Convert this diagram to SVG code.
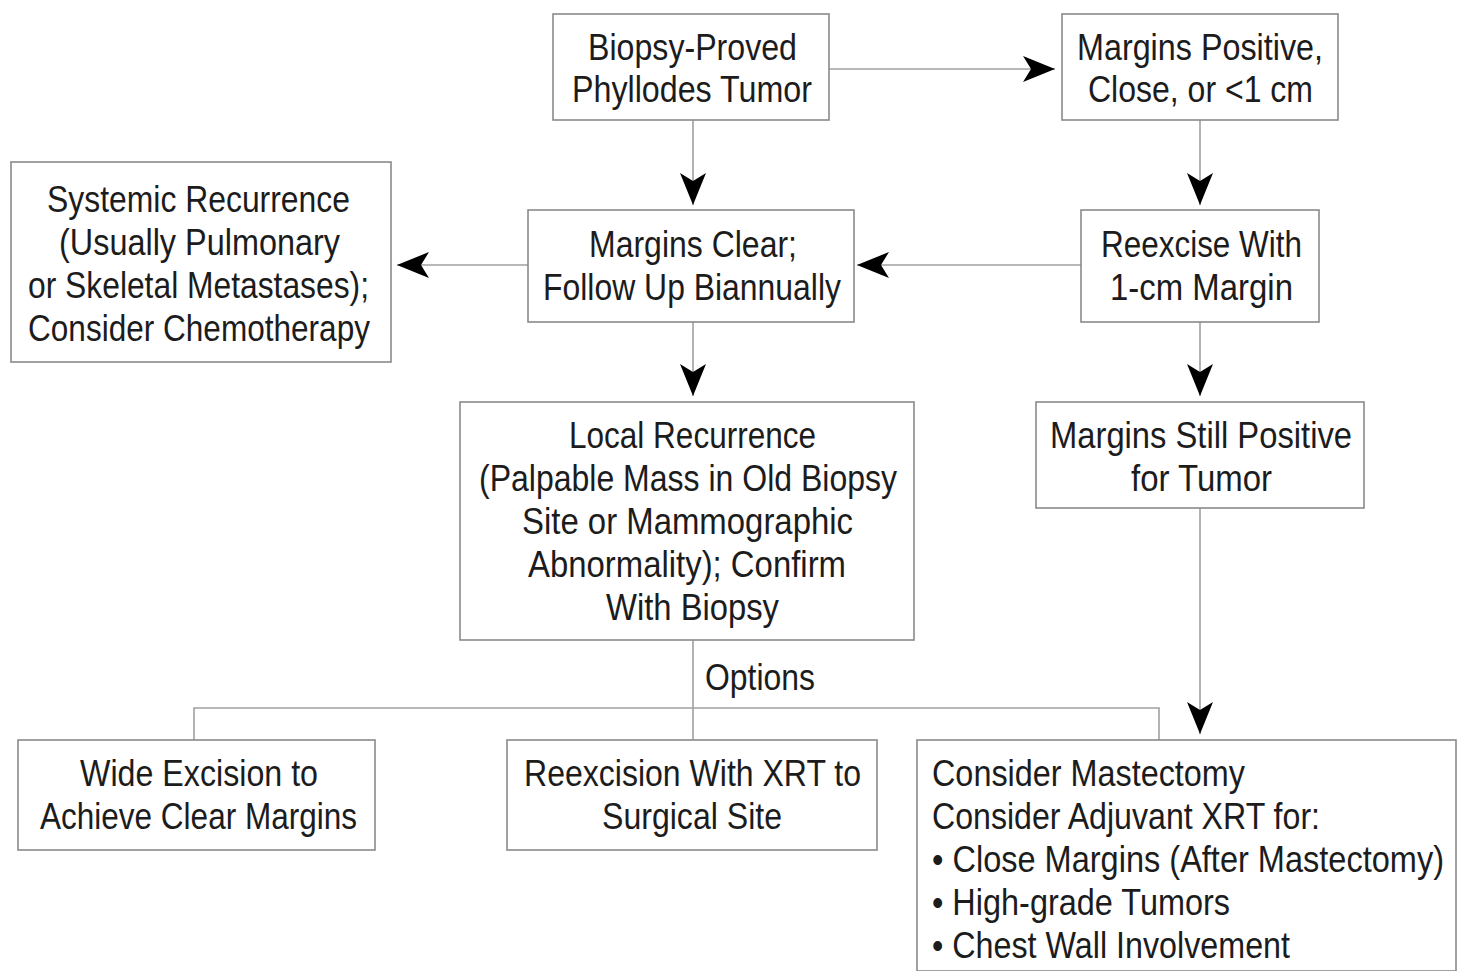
<svg xmlns="http://www.w3.org/2000/svg" width="1458" height="971" viewBox="0 0 1458 971">
<style>
.bg{fill:#ffffff}
.box{fill:#ffffff;stroke:#8a8a8a;stroke-width:1.6}
.t{font-family:"Liberation Sans",Arial,sans-serif;font-size:37px;fill:#1c1c1c}
.c{text-anchor:middle}
.ln{fill:none;stroke:#a0a0a0;stroke-width:1.6}
</style>
<defs>
<marker id="ah" markerUnits="userSpaceOnUse" markerWidth="34" markerHeight="28" viewBox="0 0 34 28" refX="32" refY="13" orient="auto">
<path d="M0,0 L32,13 L0,26 L8,13 z" fill="#000"/>
</marker>
</defs>
<rect class="bg" x="0" y="0" width="1458" height="971"/>
<g id="connectors">
<line class="ln" x1="829" y1="69" x2="1055" y2="69" marker-end="url(#ah)"/>
<line class="ln" x1="693" y1="120" x2="693" y2="205" marker-end="url(#ah)"/>
<line class="ln" x1="1200" y1="120" x2="1200" y2="205" marker-end="url(#ah)"/>
<line class="ln" x1="1081" y1="265" x2="857" y2="265" marker-end="url(#ah)"/>
<line class="ln" x1="528" y1="265" x2="397" y2="265" marker-end="url(#ah)"/>
<line class="ln" x1="693" y1="322" x2="693" y2="396" marker-end="url(#ah)"/>
<line class="ln" x1="1200" y1="322" x2="1200" y2="396" marker-end="url(#ah)"/>
<line class="ln" x1="1200" y1="508" x2="1200" y2="734" marker-end="url(#ah)"/>
<line class="ln" x1="693" y1="640" x2="693" y2="740"/>
<polyline class="ln" points="194,740 194,708 1159,708 1159,740"/>
<text class="t" x="705" y="690" textLength="110" lengthAdjust="spacingAndGlyphs">Options</text>
</g>
<g id="n1">
<rect class="box" x="553" y="14" width="276" height="106"/>
<text class="t" x="588" y="60" textLength="209" lengthAdjust="spacingAndGlyphs">Biopsy-Proved</text>
<text class="t" x="572" y="102" textLength="240" lengthAdjust="spacingAndGlyphs">Phyllodes Tumor</text>
</g>
<g id="n2">
<rect class="box" x="1062" y="14" width="276" height="106"/>
<text class="t" x="1077" y="60" textLength="246" lengthAdjust="spacingAndGlyphs">Margins Positive,</text>
<text class="t" x="1088" y="102" textLength="225" lengthAdjust="spacingAndGlyphs">Close, or &lt;1 cm</text>
</g>
<g id="n3">
<rect class="box" x="11" y="162" width="380" height="200"/>
<text class="t" x="47" y="212" textLength="303" lengthAdjust="spacingAndGlyphs">Systemic Recurrence</text>
<text class="t" x="59" y="255" textLength="281" lengthAdjust="spacingAndGlyphs">(Usually Pulmonary</text>
<text class="t" x="28" y="298" textLength="341" lengthAdjust="spacingAndGlyphs">or Skeletal Metastases);</text>
<text class="t" x="28" y="341" textLength="342" lengthAdjust="spacingAndGlyphs">Consider Chemotherapy</text>
</g>
<g id="n4">
<rect class="box" x="528" y="210" width="326" height="112"/>
<text class="t" x="589" y="257" textLength="208" lengthAdjust="spacingAndGlyphs">Margins Clear;</text>
<text class="t" x="543" y="300" textLength="298" lengthAdjust="spacingAndGlyphs">Follow Up Biannually</text>
</g>
<g id="n5">
<rect class="box" x="1081" y="210" width="238" height="112"/>
<text class="t" x="1101" y="257" textLength="201" lengthAdjust="spacingAndGlyphs">Reexcise With</text>
<text class="t" x="1110" y="300" textLength="183" lengthAdjust="spacingAndGlyphs">1-cm Margin</text>
</g>
<g id="n6">
<rect class="box" x="460" y="402" width="454" height="238"/>
<text class="t" x="569" y="448" textLength="247" lengthAdjust="spacingAndGlyphs">Local Recurrence</text>
<text class="t" x="479" y="491" textLength="418" lengthAdjust="spacingAndGlyphs">(Palpable Mass in Old Biopsy</text>
<text class="t" x="522" y="534" textLength="331" lengthAdjust="spacingAndGlyphs">Site or Mammographic</text>
<text class="t" x="528" y="577" textLength="318" lengthAdjust="spacingAndGlyphs">Abnormality); Confirm</text>
<text class="t" x="606" y="620" textLength="173" lengthAdjust="spacingAndGlyphs">With Biopsy</text>
</g>
<g id="n7">
<rect class="box" x="1036" y="402" width="328" height="106"/>
<text class="t" x="1050" y="448" textLength="302" lengthAdjust="spacingAndGlyphs">Margins Still Positive</text>
<text class="t" x="1131" y="491" textLength="141" lengthAdjust="spacingAndGlyphs">for Tumor</text>
</g>
<g id="n8">
<rect class="box" x="18" y="740" width="357" height="110"/>
<text class="t" x="80" y="786" textLength="238" lengthAdjust="spacingAndGlyphs">Wide Excision to</text>
<text class="t" x="40" y="829" textLength="317" lengthAdjust="spacingAndGlyphs">Achieve Clear Margins</text>
</g>
<g id="n9">
<rect class="box" x="507" y="740" width="370" height="110"/>
<text class="t" x="524" y="786" textLength="337" lengthAdjust="spacingAndGlyphs">Reexcision With XRT to</text>
<text class="t" x="602" y="829" textLength="180" lengthAdjust="spacingAndGlyphs">Surgical Site</text>
</g>
<g id="n10">
<rect class="box" x="917" y="740" width="539" height="231"/>
<text class="t" x="932" y="786" textLength="313" lengthAdjust="spacingAndGlyphs">Consider Mastectomy</text>
<text class="t" x="932" y="829" textLength="388" lengthAdjust="spacingAndGlyphs">Consider Adjuvant XRT for:</text>
<text class="t" x="932" y="872" textLength="512" lengthAdjust="spacingAndGlyphs">• Close Margins (After Mastectomy)</text>
<text class="t" x="932" y="915" textLength="298" lengthAdjust="spacingAndGlyphs">• High-grade Tumors</text>
<text class="t" x="932" y="958" textLength="358" lengthAdjust="spacingAndGlyphs">• Chest Wall Involvement</text>
</g>
</svg>
